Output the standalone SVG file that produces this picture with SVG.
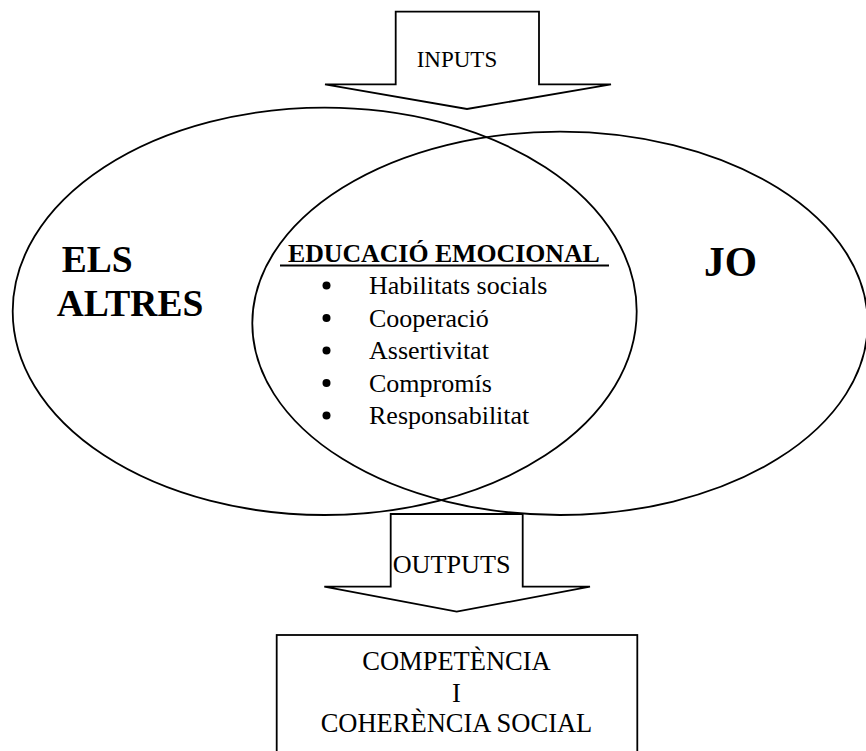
<svg xmlns="http://www.w3.org/2000/svg" width="866" height="751" viewBox="0 0 866 751">
<style>
.ln{fill:none;stroke:#000;stroke-width:1.8}
.sh{fill:#fff;stroke:#000;stroke-width:1.8;stroke-linejoin:miter}
.t{font-family:"Liberation Serif","Times New Roman",serif;fill:#000}
.b{font-weight:bold}
</style>
<rect width="866" height="751" fill="#fff"/>
<g id="others">
<ellipse class="ln" cx="324.7" cy="311.3" rx="312" ry="203.7"/>
<text class="t b" x="61.7" y="271.7" font-size="37.5">ELS</text>
<text class="t b" x="56.7" y="316" font-size="37.5">ALTRES</text>
</g>
<g id="me">
<ellipse class="ln" cx="560" cy="323.3" rx="307.7" ry="191.7"/>
<text class="t b" x="704" y="276" font-size="41.5">JO</text>
</g>
<g id="education">
<text class="t b" x="288" y="261.5" font-size="25.8">EDUCACIÓ EMOCIONAL</text>
<line x1="280" y1="265.5" x2="609" y2="265.5" stroke="#000" stroke-width="2"/>
<g class="t" font-size="26">
<circle cx="326.5" cy="285.5" r="4"/><text x="369" y="294">Habilitats socials</text>
<circle cx="326.5" cy="318" r="4"/><text x="369" y="326.5">Cooperació</text>
<circle cx="326.5" cy="350.5" r="4"/><text x="369" y="359">Assertivitat</text>
<circle cx="326.5" cy="383" r="4"/><text x="369" y="391.5">Compromís</text>
<circle cx="326.5" cy="415.5" r="4"/><text x="369" y="424">Responsabilitat</text>
</g>
</g>
<g id="connectors">
<g id="inputs">
<polygon class="sh" points="395.7,11.7 539,11.7 539,84.3 611,84.3 467,109 325,84.3 395.7,84.3"/>
<text class="t" x="416.7" y="66.7" font-size="23">INPUTS</text>
</g>
<g id="outputs">
<polygon class="sh" points="390.7,514 522.7,514 522.7,586.7 590,586.7 456.7,611.7 324.3,586.7 390.7,586.7"/>
<text class="t" x="392.7" y="573.3" font-size="26.2">OUTPUTS</text>
</g>
</g>
<g id="result">
<rect class="ln" x="276.7" y="635" width="360.6" height="130"/>
<g class="t" font-size="26.5" text-anchor="middle">
<text x="456.5" y="670">COMPETÈNCIA</text>
<text x="456.5" y="701.5">I</text>
<text x="456.5" y="731.5">COHERÈNCIA SOCIAL</text>
</g>
</g>
</svg>
